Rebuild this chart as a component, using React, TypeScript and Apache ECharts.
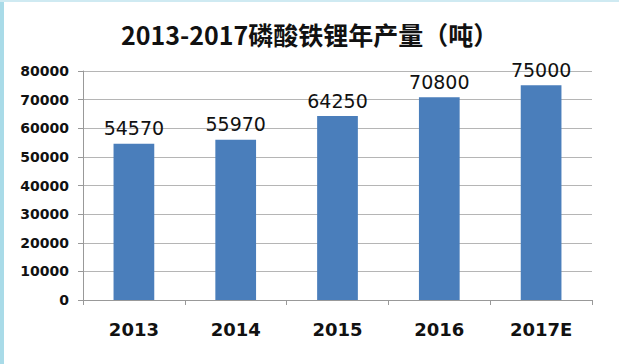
import React, { useEffect, useRef } from "react";
import * as echarts from "echarts";

const categories = ["2013", "2014", "2015", "2016", "2017E"];
const production = [54570, 55970, 64250, 70800, 75000];
const titleText = "2013-2017磷酸铁锂年产量（吨）";

export default function App() {
  const ref = useRef<HTMLDivElement>(null);
  useEffect(() => {
    const chart = echarts.init(ref.current!, null, { renderer: "svg" });
    chart.setOption({
      animation: false,
      backgroundColor: "#ffffff",
      title: {
        text: titleText,
        left: "center",
        top: 16,
        textStyle: { fontSize: 25, fontWeight: "bold", color: "#111", fontFamily: "Noto Sans CJK SC" },
      },
      graphic: [
        { type: "rect", left: 0, top: 0, shape: { x: 0, y: 0, width: 4, height: 364 }, style: { fill: "#a9dbe8" } },
        { type: "rect", left: 0, top: 0, shape: { x: 0, y: 0, width: 619, height: 2 }, style: { fill: "#cfeaf2" } },
      ],
      grid: { left: 83, right: 27, top: 71, bottom: 64 },
      xAxis: {
        type: "category",
        data: categories,
        axisLine: { lineStyle: { color: "#999" } },
        axisTick: { show: true, lineStyle: { color: "#999" }, length: 5 },
        axisLabel: { fontSize: 18, fontWeight: "bold", color: "#111", margin: 20, fontFamily: "DejaVu Sans" },
      },
      yAxis: {
        type: "value",
        min: 0,
        max: 80000,
        interval: 10000,
        axisLine: { show: true, lineStyle: { color: "#999" } },
        axisTick: { show: true, lineStyle: { color: "#999" }, length: 5 },
        splitLine: { lineStyle: { color: "#b5b5b5" } },
        axisLabel: {
          fontSize: 14,
          fontWeight: "bold",
          color: "#111",
          margin: 14,
          fontFamily: "DejaVu Sans",
          formatter: (v: number) => String(v),
        },
      },
      series: [
        {
          type: "bar",
          data: production,
          barWidth: "40%",
          itemStyle: { color: "#4a7ebb" },
          label: {
            show: true,
            position: "top",
            fontSize: 19,
            color: "#111",
            distance: 6,
            fontFamily: "DejaVu Sans",
          },
        },
      ],
    });
    return () => chart.dispose();
  }, []);
  return <div ref={ref} style={{ width: 619, height: 364, position: "absolute", left: 0, top: 0 }} />;
}
